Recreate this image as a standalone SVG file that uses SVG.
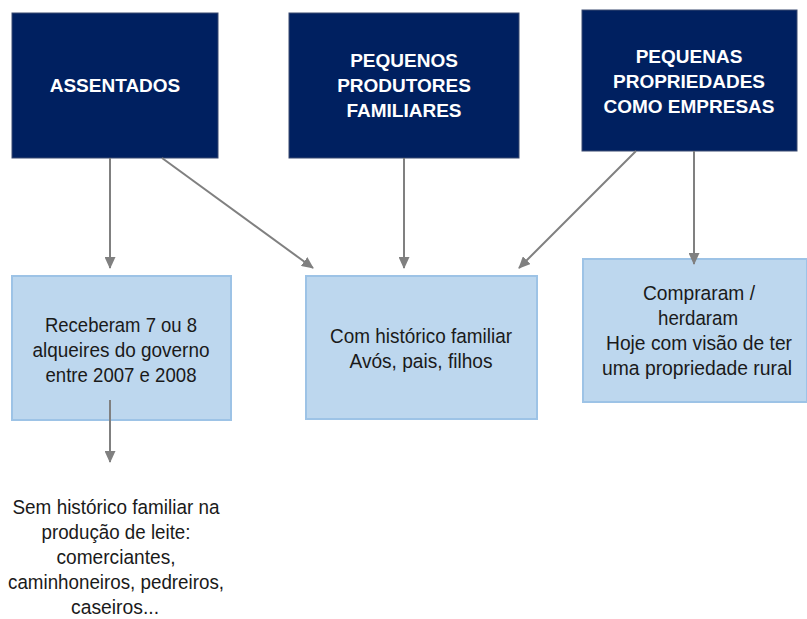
<svg xmlns="http://www.w3.org/2000/svg" width="807" height="619" viewBox="0 0 807 619">
<style>
.dark{fill:#002060;stroke:#3a4a70;stroke-width:1}
.light{fill:#BDD7EE;stroke:#9DC3E6;stroke-width:2}
.t1{font-family:"Liberation Sans",Arial,sans-serif;font-weight:bold;font-size:19px;fill:#ffffff;text-anchor:middle}
.t2{font-family:"Liberation Sans",Arial,sans-serif;font-size:20.5px;fill:#1a1a1a;text-anchor:middle}
.c{stroke:#808080;stroke-width:2;fill:none;marker-end:url(#ah)}
</style>
<defs>
<marker id="ah" viewBox="0 0 12 11" refX="11" refY="5.5" markerWidth="12" markerHeight="11" markerUnits="userSpaceOnUse" orient="auto">
<path d="M0,0 L12,5.5 L0,11 Z" fill="#808080"/>
</marker>
</defs>
<rect width="807" height="619" fill="#ffffff"/>
<g id="n1"><rect class="dark" x="12" y="13" width="206" height="145"/><text class="t1" x="115" y="92">ASSENTADOS</text></g>
<g id="n2"><rect class="dark" x="289" y="13" width="230" height="145"/><text class="t1" x="404" y="67">PEQUENOS</text><text class="t1" x="404" y="92">PRODUTORES</text><text class="t1" x="404" y="117">FAMILIARES</text></g>
<g id="n3"><rect class="dark" x="582" y="10" width="215" height="141"/><text class="t1" x="689" y="63">PEQUENAS</text><text class="t1" x="689" y="88">PROPRIEDADES</text><text class="t1" x="689" y="113">COMO EMPRESAS</text></g>
<g id="n4"><rect class="light" x="12" y="276" width="219" height="144"/>
<text class="t2" x="121" y="332" textLength="152" lengthAdjust="spacingAndGlyphs">Receberam 7 ou 8</text>
<text class="t2" x="121" y="357" textLength="177" lengthAdjust="spacingAndGlyphs">alqueires do governo</text>
<text class="t2" x="121" y="382" textLength="151" lengthAdjust="spacingAndGlyphs">entre 2007 e 2008</text></g>
<g id="n5"><rect class="light" x="306" y="276" width="231" height="143"/>
<text class="t2" x="421" y="343" textLength="182" lengthAdjust="spacingAndGlyphs">Com histórico familiar</text>
<text class="t2" x="421" y="368" textLength="143" lengthAdjust="spacingAndGlyphs">Avós, pais, filhos</text></g>
<g id="n6"><rect class="light" x="583" y="259" width="224" height="143"/>
<text class="t2" x="699" y="300" textLength="112" lengthAdjust="spacingAndGlyphs">Compraram /</text>
<text class="t2" x="698" y="325" textLength="80" lengthAdjust="spacingAndGlyphs">herdaram</text>
<text class="t2" x="699" y="350" textLength="186" lengthAdjust="spacingAndGlyphs">Hoje com visão de ter</text>
<text class="t2" x="697" y="375" textLength="190" lengthAdjust="spacingAndGlyphs">uma propriedade rural</text></g>
<g id="n7">
<text class="t2" x="116" y="514" textLength="207" lengthAdjust="spacingAndGlyphs">Sem histórico familiar na</text>
<text class="t2" x="116" y="539" textLength="149" lengthAdjust="spacingAndGlyphs">produção de leite:</text>
<text class="t2" x="116" y="564" textLength="119" lengthAdjust="spacingAndGlyphs">comerciantes,</text>
<text class="t2" x="116" y="589" textLength="216" lengthAdjust="spacingAndGlyphs">caminhoneiros, pedreiros,</text>
<text class="t2" x="115" y="614" textLength="88" lengthAdjust="spacingAndGlyphs">caseiros...</text></g>
<g id="connectors">
<line class="c" x1="110" y1="158" x2="110" y2="268"/>
<line class="c" x1="162" y1="158" x2="313" y2="268"/>
<line class="c" x1="404" y1="158" x2="404" y2="268"/>
<line class="c" x1="636" y1="151" x2="519" y2="268"/>
<line class="c" x1="694" y1="151" x2="694" y2="264"/>
<line class="c" x1="110" y1="400" x2="110" y2="462"/>
</g>
</svg>
